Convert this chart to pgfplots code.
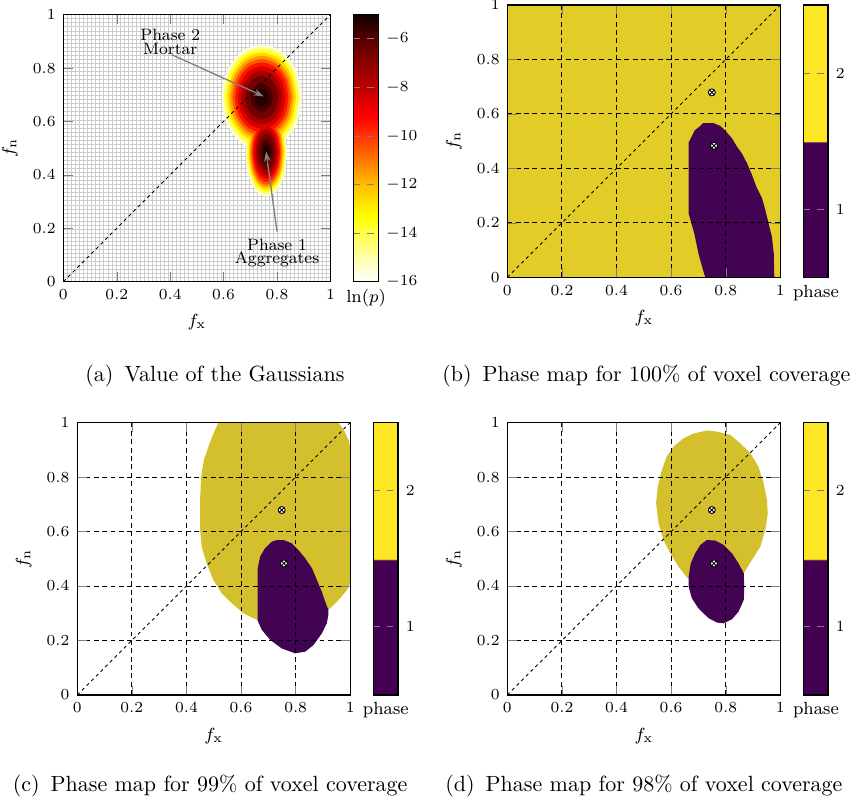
\documentclass[border=0pt]{standalone}
\usepackage{pgfplots}
\pgfplotsset{compat=1.18}
\usetikzlibrary{arrows.meta}
\definecolor{c1}{RGB}{255,255,212}
\definecolor{c2}{RGB}{255,255,120}
\definecolor{c3}{RGB}{255,255,20}
\definecolor{c4}{RGB}{255,215,0}
\definecolor{c5}{RGB}{255,155,0}
\definecolor{c6}{RGB}{255,87,0}
\definecolor{c7}{RGB}{255,20,0}
\definecolor{c8}{RGB}{217,0,0}
\definecolor{c9}{RGB}{165,0,0}
\definecolor{c10}{RGB}{115,0,0}
\definecolor{c11}{RGB}{71,0,0}
\definecolor{c12}{RGB}{37,0,0}
\definecolor{phyel}{RGB}{226,204,40}
\definecolor{phyelb}{RGB}{212,192,45}
\definecolor{phpur}{RGB}{66,4,82}
\pgfplotsset{
  colormap={lnp}{rgb255(0cm)=(255,255,255) rgb255(1cm)=(255,255,170) rgb255(2.7cm)=(255,255,0) rgb255(4cm)=(255,190,0) rgb255(5cm)=(255,120,0) rgb255(6.8cm)=(255,0,0) rgb255(8cm)=(190,0,0) rgb255(10cm)=(90,0,0) rgb255(11cm)=(15,0,0)},
  colormap={phase}{rgb255(0cm)=(68,1,84) rgb255(9.9cm)=(68,1,84) rgb255(10cm)=(253,231,37) rgb255(20cm)=(253,231,37)},
  tick label style={font=\fontsize{7.5}{9}\selectfont},
  label style={font=\fontsize{8}{9}\selectfont},
  base/.style={scale only axis, anchor=south west,
     xmin=0, xmax=1, ymin=0, ymax=1,
     xtick={0,0.2,0.4,0.6,0.8,1}, ytick={0,0.2,0.4,0.6,0.8,1},
     xlabel={$f_{\mathrm{x}}$}, ylabel={$f_{\mathrm{n}}$},
     axis line style={line width=0.6pt},
     major tick style={gray}},
  lev/.style={draw=none, fill=#1, smooth},
  diag/.style={black, line width=0.4pt, dash pattern=on 1.5pt off 1.5pt},
  cmark/.style={only marks, mark=otimes*, mark size=1.6pt, mark options={fill=white, draw=black, line width=0.4pt}},
  phaseax/.style={base, axis on top, grid=major,
     major grid style={black, line width=0.45pt, dash pattern=on 2.2pt off 1.6pt},
     width=124.1pt, height=123.8pt,
     colorbar, colormap name=phase, point meta min=0.5, point meta max=2.5,
     colorbar style={at={(parent axis.north east)}, anchor=north west, xshift=2.1pt,
        width=11.1pt, scale only axis, axis on top, ytick={1,2}, ymajorgrids=true,
        major grid style={gray, dash pattern=on 3pt off 3pt}, major tick length=0pt,
        xlabel={phase}, axis line style={line width=0.6pt}}},
}
\begin{document}
\begin{tikzpicture}
\useasboundingbox (0,0) rectangle (388.64pt,365pt);
% ---------------- (a)
\begin{axis}[base, at={(28.8pt,236.95pt)}, width=121.4pt, height=121.4pt,
  minor xtick={0,0.01515,...,1}, minor ytick={0,0.01515,...,1}, grid=minor, minor tick length=0pt,
  minor grid style={gray!40, line width=0.3pt},
  colorbar, colormap name=lnp, point meta min=-16, point meta max=-5,
  colorbar style={at={(parent axis.north east)}, anchor=north west, xshift=2.1pt,
     width=11.1pt, scale only axis, axis on top, ytick={-16,-14,-12,-10,-8,-6},
     ymajorgrids=true, major grid style={gray, dash pattern=on 3pt off 3pt},
     major tick length=0pt, xlabel={$\ln(p)$}, axis line style={line width=0.6pt}}]
\addplot[lev=c1] coordinates {(0.893,0.690)(0.873,0.789)(0.818,0.861)(0.743,0.887)(0.668,0.861)(0.613,0.789)(0.593,0.690)(0.613,0.591)(0.668,0.519)(0.743,0.493)(0.818,0.519)(0.873,0.591)(0.893,0.690)};
\addplot[lev=c1] coordinates {(0.838,0.485)(0.828,0.568)(0.799,0.629)(0.760,0.651)(0.721,0.629)(0.692,0.568)(0.682,0.485)(0.692,0.402)(0.721,0.341)(0.760,0.319)(0.799,0.341)(0.828,0.402)(0.838,0.485)};
\addplot[lev=c2] coordinates {(0.886,0.690)(0.867,0.784)(0.815,0.853)(0.743,0.878)(0.671,0.853)(0.619,0.784)(0.600,0.690)(0.619,0.596)(0.671,0.527)(0.743,0.502)(0.815,0.527)(0.867,0.596)(0.886,0.690)};
\addplot[lev=c2] coordinates {(0.834,0.485)(0.824,0.564)(0.797,0.622)(0.760,0.643)(0.723,0.622)(0.696,0.564)(0.686,0.485)(0.696,0.406)(0.723,0.348)(0.760,0.327)(0.797,0.348)(0.824,0.406)(0.834,0.485)};
\addplot[lev=c3] coordinates {(0.878,0.690)(0.860,0.779)(0.811,0.844)(0.743,0.868)(0.675,0.844)(0.626,0.779)(0.608,0.690)(0.626,0.601)(0.675,0.536)(0.743,0.512)(0.811,0.536)(0.860,0.601)(0.878,0.690)};
\addplot[lev=c3] coordinates {(0.830,0.485)(0.821,0.560)(0.795,0.615)(0.760,0.635)(0.725,0.615)(0.699,0.560)(0.690,0.485)(0.699,0.410)(0.725,0.355)(0.760,0.335)(0.795,0.355)(0.821,0.410)(0.830,0.485)};
\addplot[lev=c4] coordinates {(0.871,0.690)(0.853,0.774)(0.807,0.835)(0.743,0.857)(0.679,0.835)(0.633,0.774)(0.615,0.690)(0.633,0.606)(0.679,0.545)(0.743,0.523)(0.807,0.545)(0.853,0.606)(0.871,0.690)};
\addplot[lev=c4] coordinates {(0.826,0.485)(0.817,0.556)(0.793,0.607)(0.760,0.626)(0.727,0.607)(0.703,0.556)(0.694,0.485)(0.703,0.414)(0.727,0.363)(0.760,0.344)(0.793,0.363)(0.817,0.414)(0.826,0.485)};
\addplot[lev=c5] coordinates {(0.862,0.690)(0.846,0.768)(0.803,0.825)(0.743,0.846)(0.683,0.825)(0.640,0.768)(0.624,0.690)(0.640,0.612)(0.683,0.555)(0.743,0.534)(0.803,0.555)(0.846,0.612)(0.862,0.690)};
\addplot[lev=c5] coordinates {(0.822,0.485)(0.814,0.551)(0.791,0.599)(0.760,0.617)(0.729,0.599)(0.706,0.551)(0.698,0.485)(0.706,0.419)(0.729,0.371)(0.760,0.353)(0.791,0.371)(0.814,0.419)(0.822,0.485)};
\addplot[lev=c6] coordinates {(0.853,0.690)(0.838,0.762)(0.798,0.815)(0.743,0.834)(0.688,0.815)(0.648,0.762)(0.633,0.690)(0.648,0.618)(0.688,0.565)(0.743,0.546)(0.798,0.565)(0.838,0.618)(0.853,0.690)};
\addplot[lev=c6] coordinates {(0.817,0.485)(0.809,0.546)(0.789,0.591)(0.760,0.607)(0.731,0.591)(0.711,0.546)(0.703,0.485)(0.711,0.424)(0.731,0.379)(0.760,0.363)(0.789,0.379)(0.809,0.424)(0.817,0.485)};
\addplot[lev=c7] coordinates {(0.843,0.690)(0.830,0.756)(0.793,0.804)(0.743,0.821)(0.693,0.804)(0.656,0.756)(0.643,0.690)(0.656,0.624)(0.693,0.576)(0.743,0.559)(0.793,0.576)(0.830,0.624)(0.843,0.690)};
\addplot[lev=c7] coordinates {(0.812,0.485)(0.805,0.540)(0.786,0.581)(0.760,0.596)(0.734,0.581)(0.715,0.540)(0.708,0.485)(0.715,0.430)(0.734,0.389)(0.760,0.374)(0.786,0.389)(0.805,0.430)(0.812,0.485)};
\addplot[lev=c8] coordinates {(0.832,0.690)(0.820,0.748)(0.788,0.791)(0.743,0.807)(0.698,0.791)(0.666,0.748)(0.654,0.690)(0.666,0.632)(0.698,0.589)(0.743,0.573)(0.788,0.589)(0.820,0.632)(0.832,0.690)};
\addplot[lev=c8] coordinates {(0.806,0.485)(0.800,0.534)(0.783,0.570)(0.760,0.583)(0.737,0.570)(0.720,0.534)(0.714,0.485)(0.720,0.436)(0.737,0.400)(0.760,0.387)(0.783,0.400)(0.800,0.436)(0.806,0.485)};
\addplot[lev=c9] coordinates {(0.819,0.690)(0.809,0.740)(0.781,0.777)(0.743,0.790)(0.705,0.777)(0.677,0.740)(0.667,0.690)(0.677,0.640)(0.705,0.603)(0.743,0.590)(0.781,0.603)(0.809,0.640)(0.819,0.690)};
\addplot[lev=c9] coordinates {(0.800,0.485)(0.794,0.527)(0.780,0.558)(0.760,0.569)(0.740,0.558)(0.726,0.527)(0.720,0.485)(0.726,0.443)(0.740,0.412)(0.760,0.401)(0.780,0.412)(0.794,0.443)(0.800,0.485)};
\addplot[lev=c10] coordinates {(0.804,0.690)(0.796,0.730)(0.774,0.760)(0.743,0.770)(0.712,0.760)(0.690,0.730)(0.682,0.690)(0.690,0.650)(0.712,0.620)(0.743,0.610)(0.774,0.620)(0.796,0.650)(0.804,0.690)};
\addplot[lev=c10] coordinates {(0.792,0.485)(0.788,0.519)(0.776,0.544)(0.760,0.553)(0.744,0.544)(0.732,0.519)(0.728,0.485)(0.732,0.451)(0.744,0.426)(0.760,0.417)(0.776,0.426)(0.788,0.451)(0.792,0.485)};
\addplot[lev=c11] coordinates {(0.784,0.690)(0.778,0.717)(0.763,0.736)(0.743,0.744)(0.723,0.736)(0.708,0.717)(0.702,0.690)(0.708,0.663)(0.723,0.644)(0.743,0.636)(0.763,0.644)(0.778,0.663)(0.784,0.690)};
\addplot[lev=c11] coordinates {(0.781,0.485)(0.778,0.508)(0.771,0.524)(0.760,0.530)(0.749,0.524)(0.742,0.508)(0.739,0.485)(0.742,0.462)(0.749,0.446)(0.760,0.440)(0.771,0.446)(0.778,0.462)(0.781,0.485)};
\addplot[lev=c12] coordinates {(0.768,0.690)(0.765,0.706)(0.756,0.718)(0.743,0.723)(0.730,0.718)(0.721,0.706)(0.718,0.690)(0.721,0.674)(0.730,0.662)(0.743,0.657)(0.756,0.662)(0.765,0.674)(0.768,0.690)};
\addplot[lev=c12] coordinates {(0.773,0.485)(0.771,0.499)(0.767,0.509)(0.760,0.513)(0.753,0.509)(0.749,0.499)(0.747,0.485)(0.749,0.471)(0.753,0.461)(0.760,0.457)(0.767,0.461)(0.771,0.471)(0.773,0.485)};
\addplot[diag] coordinates {(0,0)(1,1)};
\node[font=\fontsize{7.5}{6}\selectfont, align=center] at (axis cs:0.40,0.898) {Phase 2\\Mortar};
\node[font=\fontsize{7.5}{6}\selectfont, align=center] at (axis cs:0.80,0.108) {Phase 1\\Aggregates};
\draw[gray, line width=0.6pt, -{Stealth[length=4.5pt, width=3pt]}] (axis cs:0.406,0.85) -- (axis cs:0.75,0.694);
\draw[gray, line width=0.6pt, -{Stealth[length=4.5pt, width=3pt]}] (axis cs:0.80,0.1875) -- (axis cs:0.759,0.4875);
\end{axis}
% ---------------- (b)
\begin{axis}[phaseax, at={(230.6pt,238.95pt)}]
\addplot[draw=none, fill=phyel] coordinates {(0,0)(1,0)(1,1)(0,1)(0,0)};
\addplot[draw=none, fill=phpur] coordinates {(0.725,0)(0.713,0.04)(0.70,0.088)(0.685,0.16)(0.664,0.235)(0.664,0.494)(0.686,0.539)(0.707,0.556)(0.717,0.566)(0.755,0.566)(0.78,0.556)(0.798,0.539)(0.823,0.51)(0.841,0.48)(0.859,0.455)(0.878,0.419)(0.896,0.376)(0.912,0.333)(0.933,0.29)(0.945,0.247)(0.957,0.198)(0.969,0.149)(0.976,0.088)(0.978,0)(0.725,0)};
\addplot[diag] coordinates {(0,0)(1,1)};
\addplot[cmark] coordinates {(0.749,0.679)(0.757,0.483)};
\end{axis}
% ---------------- (c)
\begin{axis}[phaseax, at={(35.1pt,49.1pt)}]
\addplot[draw=none, fill=phyelb] coordinates {(0.517,1.0)(0.957,1.0)(0.976,0.973)(0.994,0.936)(1.0,0.91)(1.0,0.41)(0.988,0.386)(0.963,0.355)(0.939,0.33)(0.92,0.312)(0.664,0.275)(0.645,0.282)(0.609,0.30)(0.566,0.337)(0.529,0.373)(0.499,0.422)(0.474,0.483)(0.456,0.545)(0.45,0.606)(0.45,0.716)(0.454,0.80)(0.464,0.863)(0.48,0.91)(0.499,0.96)(0.517,1.0)};
\addplot[draw=none, fill=phpur] coordinates {(0.661,0.465)(0.67,0.508)(0.688,0.539)(0.713,0.563)(0.731,0.569)(0.756,0.569)(0.786,0.557)(0.81,0.532)(0.835,0.502)(0.86,0.465)(0.878,0.422)(0.896,0.379)(0.908,0.343)(0.92,0.312)(0.92,0.294)(0.914,0.263)(0.896,0.226)(0.866,0.184)(0.835,0.159)(0.798,0.153)(0.749,0.171)(0.707,0.202)(0.676,0.239)(0.661,0.273)(0.661,0.465)};
\addplot[diag] coordinates {(0,0)(1,1)};
\addplot[cmark] coordinates {(0.749,0.679)(0.757,0.483)};
\end{axis}
% ---------------- (d)
\begin{axis}[phaseax, at={(230.6pt,49.1pt)}]
\addplot[draw=none, fill=phyelb] coordinates {(0.731,0.971)(0.768,0.967)(0.817,0.955)(0.853,0.924)(0.89,0.888)(0.92,0.838)(0.939,0.777)(0.951,0.716)(0.954,0.667)(0.945,0.606)(0.927,0.545)(0.896,0.496)(0.866,0.447)(0.70,0.45)(0.661,0.428)(0.627,0.471)(0.597,0.52)(0.572,0.569)(0.554,0.63)(0.545,0.704)(0.551,0.765)(0.566,0.826)(0.584,0.875)(0.609,0.912)(0.645,0.942)(0.682,0.96)(0.731,0.971)};
\addplot[draw=none, fill=phpur] coordinates {(0.731,0.569)(0.762,0.567)(0.792,0.551)(0.823,0.52)(0.847,0.483)(0.866,0.447)(0.868,0.398)(0.866,0.349)(0.847,0.306)(0.823,0.278)(0.792,0.263)(0.768,0.266)(0.737,0.282)(0.70,0.318)(0.676,0.355)(0.664,0.398)(0.664,0.434)(0.672,0.483)(0.688,0.52)(0.707,0.551)(0.731,0.569)};
\addplot[diag] coordinates {(0,0)(1,1)};
\addplot[cmark] coordinates {(0.749,0.679)(0.757,0.483)};
\end{axis}
% ---------------- captions
\node[anchor=base] at (97.7pt,191.4pt) {(a)\hspace{5pt}Value of the Gaussians};
\node[anchor=base] at (293.8pt,191.4pt) {(b)\hspace{5pt}Phase map for 100\% of voxel coverage};
\node[anchor=base] at (95.5pt,5pt) {(c)\hspace{5pt}Phase map for 99\% of voxel coverage};
\node[anchor=base] at (292.7pt,5pt) {(d)\hspace{5pt}Phase map for 98\% of voxel coverage};
\end{tikzpicture}
\end{document}
